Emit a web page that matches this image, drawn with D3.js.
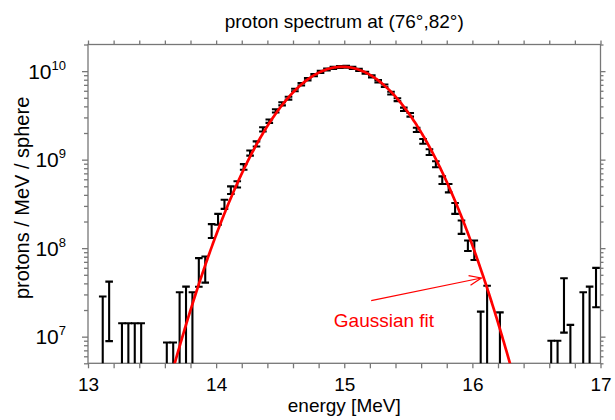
<!DOCTYPE html>
<html><head><meta charset="utf-8">
<script src="https://cdn.jsdelivr.net/npm/d3@7"></script>
<style>body{margin:0;background:#fff}svg{display:block;font-family:"Liberation Sans",Arial,sans-serif}</style>
</head><body><svg id="c" width="615" height="420"></svg>
<script>
// ---- data ----
const energies = [13.115,13.165,13.265,13.315,13.365,13.415,13.615,13.665,13.715,13.765,13.815,13.865,13.915,
  13.965,14.015,14.065,14.115,14.165,14.215,14.265,14.315,14.365,14.415,14.465,14.515,14.565,14.615,
  14.665,14.715,14.765,14.815,14.865,14.915,14.965,15.015,15.065,15.115,15.165,15.215,15.265,15.315,
  15.365,15.415,15.465,15.515,15.565,15.615,15.665,15.715,15.765,15.815,15.865,15.915,15.965,16.015,
  16.065,16.115,16.215,16.615,16.665,16.715,16.765,16.865,16.915,16.965];
const counts = [1.42e7,2.54e7,7.1e6,7.1e6,7.1e6,7.1e6,4.3e6,4.3e6,1.59e7,1.84e7,1.59e7,5.69e7,6.06e7,
  1.585e8,2.14e8,3.15e8,4.54e8,5.27e8,8.3e8,1.19e9,1.51e9,2.2e9,2.72e9,3.56e9,4.28e9,4.95e9,6.13e9,
  7.1e9,8.1e9,9.0e9,9.8e9,1.045e10,1.09e10,1.115e10,1.12e10,1.09e10,1.035e10,9.6e9,8.75e9,7.7e9,6.85e9,
  5.64e9,4.76e9,3.71e9,3.21e9,2.17e9,1.61e9,1.22e9,8.9e8,5.89e8,4.79e8,2.84e8,1.75e8,1.075e8,9.78e7,
  9.6e6,1.88e7,9.4e6,4.5e6,4.5e6,2.84e7,6.8e6,1.59e7,1.84e7,4.07e7];
const errors = [1.42e7,1.65e7,7.1e6,7.1e6,7.1e6,7.1e6,4.3e6,4.3e6,1.59e7,1.84e7,1.59e7,2.02e7,1.98e7,
  2.85e7,3.0e7,3.7e7,4.5e7,4.2e7,6.0e7,8.0e7,1.0e8,1.2e8,1.2e8,1.5e8,1.8e8,1.8e8,2.0e8,
  2.2e8,2.4e8,2.5e8,2.6e8,2.7e8,2.8e8,2.8e8,2.8e8,2.8e8,2.7e8,2.6e8,2.5e8,2.3e8,2.2e8,
  2.0e8,1.8e8,1.6e8,1.5e8,1.2e8,1.0e8,9.0e7,7.0e7,5.8e7,5.2e7,4.0e7,3.0e7,1.45e7,2.42e7,
  9.6e6,1.88e7,9.4e6,4.5e6,4.5e6,1.73e7,6.8e6,1.59e7,1.84e7,1.92e7];
const xTickLabels = [13,14,15,16,17];
const yDecades = [7,8,9,10];
const fitAmplitude = 1.12e10, fitMean = 14.985, fitSigma = 0.333;
const titleText = "proton spectrum at (76°,82°)";
const xLabel = "energy [MeV]";
const yLabel = "protons / MeV / sphere";
const annotationText = "Gaussian fit";
const arrowFrom = [15.21, 2.55e7], arrowTo = [16.07, 4.6e7];
const textAt = [15.31, 1.27e7];

// ---- layout ----
const L = 88, R = 600.5, T = 44.5, B = 363.3;
const svg = d3.select("#c");
const x = d3.scaleLinear().domain([13,17]).range([L,R]);
const y = d3.scaleLog().domain([5e6,2e10]).range([B,T]);
const axisColor = "#777";
const FONT = "Liberation Sans, Arial, sans-serif";

svg.append("defs").append("clipPath").attr("id","clip")
  .append("rect").attr("x",L).attr("y",T).attr("width",R-L).attr("height",B-T);

// x axes
const xTicks = d3.range(0,21).map(i => 13 + i*0.2);
const fmtX = d => xTickLabels.some(t => Math.abs(t-d)<1e-6) ? String(Math.round(d)) : "";
const gxb = svg.append("g").attr("transform",`translate(0,${B})`)
  .call(d3.axisBottom(x).tickValues(xTicks).tickSize(5).tickSizeOuter(0).tickPadding(9).tickFormat(fmtX));
const gxt = svg.append("g").attr("transform",`translate(0,${T})`)
  .call(d3.axisTop(x).tickValues(xTicks).tickSize(4).tickSizeOuter(0).tickFormat(""));
// y axes
const minorY = [];
for (let e = 6; e <= 10; e++) for (let m = 2; m <= 9; m++) { const v = m*Math.pow(10,e); if (v>=5e6 && v<=2e10) minorY.push(v); }
const majorY = yDecades.map(e => Math.pow(10,e));
const gyl = svg.append("g").attr("transform",`translate(${L},0)`)
  .call(d3.axisLeft(y).tickValues(minorY).tickSize(4).tickSizeOuter(0).tickFormat(""));
const gylM = svg.append("g").attr("transform",`translate(${L},0)`)
  .call(d3.axisLeft(y).tickValues(majorY).tickSize(6).tickSizeOuter(0).tickFormat(""));
const gyr = svg.append("g").attr("transform",`translate(${R},0)`)
  .call(d3.axisRight(y).tickValues(minorY).tickSize(3).tickSizeOuter(0).tickFormat(""));
const gyrM = svg.append("g").attr("transform",`translate(${R},0)`)
  .call(d3.axisRight(y).tickValues(majorY).tickSize(5).tickSizeOuter(0).tickFormat(""));
[gxb,gxt,gyl,gylM,gyr,gyrM].forEach(g => {
  g.select(".domain").remove();
  g.selectAll(".tick line").attr("stroke",axisColor).attr("stroke-width",1.3);
});
gxb.selectAll(".tick text").attr("font-size",19).attr("fill","#000").attr("font-family",FONT);
// y major labels with superscript
gylM.selectAll(".tick").each(function(d){
  const t = d3.select(this).append("text").attr("x",-22).attr("y",7).attr("text-anchor","end")
    .attr("fill","#000").attr("font-family",FONT);
  t.append("tspan").attr("font-size",21).text("10");
  t.append("tspan").attr("font-size",13).attr("dy",-9).text(String(Math.round(Math.log10(d))));
});
// frame
svg.append("rect").attr("x",L).attr("y",T).attr("width",R-L).attr("height",B-T)
  .attr("fill","none").attr("stroke",axisColor).attr("stroke-width",1.3);

// error bars
const data = energies.map((e,i) => ({e, v: counts[i], err: errors[i]}));
const plot = svg.append("g").attr("clip-path","url(#clip)");
const cap = 3.8;
data.forEach(d => {
  const lo = d.v - d.err, hi = d.v + d.err;
  const yHi = y(hi);
  const lowVisible = lo > 5e6;
  const yLo = lowVisible ? y(lo) : B + 5;
  const cx = x(d.e);
  const g = plot.append("g").attr("stroke","#000").attr("stroke-width",2.1).attr("fill","none");
  g.append("line").attr("x1",cx).attr("x2",cx).attr("y1",yHi).attr("y2",yLo);
  g.append("line").attr("x1",cx-cap).attr("x2",cx+cap).attr("y1",yHi).attr("y2",yHi);
  if (lowVisible) g.append("line").attr("x1",cx-cap).attr("x2",cx+cap).attr("y1",yLo).attr("y2",yLo);
});

// gaussian fit curve (from the fit parameters)
const fitX = d3.range(13, 17.0001, 0.005);
const fitLine = d3.line().x(e => x(e)).y(e => {
  const v = fitAmplitude*Math.exp(-Math.pow(e-fitMean,2)/(2*fitSigma*fitSigma));
  return v > 1e5 ? y(v) : B + 200;
});
plot.append("path").attr("d",fitLine(fitX)).attr("fill","none").attr("stroke","#ff0000").attr("stroke-width",2.7);

// annotation
const ax1 = x(arrowFrom[0]), ay1 = y(arrowFrom[1]), ax2 = x(arrowTo[0]), ay2 = y(arrowTo[1]);
svg.append("line").attr("x1",ax1).attr("y1",ay1).attr("x2",ax2).attr("y2",ay2).attr("stroke","#ff0000").attr("stroke-width",1.2);
const ang = Math.atan2(ay2-ay1, ax2-ax1), hl = 13, ha = 22*Math.PI/180;
svg.append("path").attr("d",`M${ax2-hl*Math.cos(ang-ha)},${ay2-hl*Math.sin(ang-ha)}L${ax2},${ay2}L${ax2-hl*Math.cos(ang+ha)},${ay2-hl*Math.sin(ang+ha)}`)
  .attr("fill","none").attr("stroke","#ff0000").attr("stroke-width",1.2);
svg.append("text").attr("x",x(textAt[0])).attr("y",y(textAt[1])).attr("text-anchor","middle")
  .attr("fill","#ff0000").attr("font-size",19).text(annotationText);

// titles
svg.append("text").attr("x",(L+R)/2).attr("y",28).attr("text-anchor","middle").attr("font-size",19).attr("fill","#000").text(titleText);
svg.append("text").attr("x",(L+R)/2).attr("y",412).attr("text-anchor","middle").attr("font-size",19).attr("fill","#000").text(xLabel);
svg.append("text").attr("transform",`translate(29,${(T+B)/2-6}) rotate(-90)`).attr("text-anchor","middle").attr("font-size",20).attr("fill","#000").text(yLabel);
</script></body></html>
